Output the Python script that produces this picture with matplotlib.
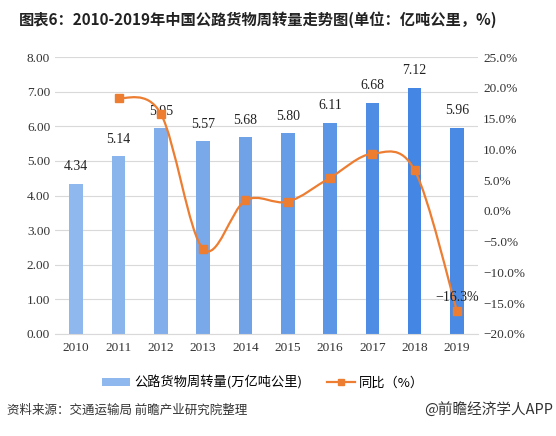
import matplotlib
matplotlib.use("Agg")
import matplotlib.pyplot as plt
from matplotlib.path import Path
from matplotlib.patches import PathPatch
from matplotlib.lines import Line2D
from matplotlib.patches import Patch
import numpy as np

plt.rcParams['font.family'] = ['Noto Sans CJK SC', 'DejaVu Sans']

years = ["2010", "2011", "2012", "2013", "2014", "2015", "2016", "2017", "2018", "2019"]
volume = [4.34, 5.14, 5.95, 5.57, 5.68, 5.80, 6.11, 6.68, 7.12, 5.96]
growth_years = ["2011", "2012", "2013", "2014", "2015", "2016", "2017", "2018", "2019"]
growth = [18.4, 15.8, -6.2, 1.7, 1.5, 5.4, 9.3, 6.6, -16.3]

bar_colors = ["#8fb8ee", "#8ab4ec", "#82aeeb", "#7aa9e9", "#70a2e8",
              "#679ce7", "#5b95e6", "#4f8de5", "#4386e3", "#4a8ae4"]
orange = "#ed7d31"
serif = ["Liberation Serif", "DejaVu Serif"]

fig = plt.figure(figsize=(5.56, 4.36), dpi=100)
ax = fig.add_axes([0.099, 0.234, 0.761, 0.635])
ax2 = ax.twinx()

x = np.arange(len(years))
ax.bar(x, volume, width=0.32, color=bar_colors, zorder=2)
for xi, v in zip(x, volume):
    ax.text(xi, v + 0.3, f"{v:.2f}", ha="center", va="bottom",
            fontsize=10, family=serif, color="#222222")

ax.set_ylim(0, 8)
ax.set_yticks(np.arange(0, 9, 1))
ax.set_yticklabels([f"{t:.2f}" for t in range(0, 9)], family=serif, fontsize=9.5)
ax.set_xlim(-0.5, len(years) - 0.5)
ax.set_xticks(x)
ax.set_xticklabels(years, family=serif, fontsize=9.5)
ax.grid(axis="y", color="#d9d9d9", linewidth=0.8, zorder=0)
ax.set_axisbelow(True)
for s in ["top", "left", "right"]:
    ax.spines[s].set_visible(False)
ax.spines["bottom"].set_color("#d9d9d9")
ax.tick_params(length=0, colors="#333333")
ax.tick_params(axis="x", pad=6)

# smooth (Catmull-Rom style) line for growth rate
gx = np.array([years.index(y) for y in growth_years], dtype=float)
gy = np.array(growth, dtype=float)
verts = [(gx[0], gy[0])]
codes = [Path.MOVETO]
n = len(gx)
for i in range(n - 1):
    p0 = (gx[i - 1], gy[i - 1]) if i > 0 else (gx[i], gy[i])
    p1 = (gx[i], gy[i])
    p2 = (gx[i + 1], gy[i + 1])
    p3 = (gx[i + 2], gy[i + 2]) if i + 2 < n else p2
    c1 = (p1[0] + (p2[0] - p0[0]) / 6, p1[1] + (p2[1] - p0[1]) / 6)
    c2 = (p2[0] - (p3[0] - p1[0]) / 6, p2[1] - (p3[1] - p1[1]) / 6)
    verts += [c1, c2, p2]
    codes += [Path.CURVE4] * 3
ax2.add_patch(PathPatch(Path(verts, codes), facecolor="none", edgecolor=orange,
                        linewidth=1.6, zorder=3))
ax2.plot(gx, gy, linestyle="none", marker="s", markersize=6, color=orange, zorder=4)
ax2.text(gx[-1], gy[-1] + 1.2, f"\u2212{abs(gy[-1]):.1f}%", ha="center", va="bottom",
         fontsize=10, family=serif, color="#222222")

ax2.set_ylim(-20, 25)
ax2.set_yticks(np.arange(-20, 26, 5))
ax2.set_yticklabels([f"{t:.1f}%".replace("-", "\u2212") for t in np.arange(-20, 26, 5)],
                    family=serif, fontsize=9.5)
for s in ["top", "left", "right", "bottom"]:
    ax2.spines[s].set_visible(False)
ax2.tick_params(length=0, colors="#333333")

fig.text(0.465, 0.955, "图表6：2010-2019年中国公路货物周转量走势图(单位：亿吨公里，%)",
         ha="center", va="center", fontsize=11, fontweight="bold", color="#222222")

handles = [Patch(facecolor="#8fb8ee"),
           Line2D([0], [0], color=orange, marker="s", markersize=5, linewidth=1.6)]
fig.legend(handles, ["公路货物周转量(万亿吨公里)", "同比（%）"], loc="center",
           bbox_to_anchor=(0.473, 0.122), ncol=2, frameon=False, fontsize=9.5,
           handlelength=2.1, handleheight=0.6, columnspacing=1.9, handletextpad=0.3)

fig.text(0.012, 0.06, "资料来源：交通运输局 前瞻产业研究院整理", ha="left", va="center",
         fontsize=9, color="#333333")
fig.text(0.995, 0.06, "@前瞻经济学人APP", ha="right", va="center",
         fontsize=10.5, color="#333333")

fig.savefig("out.png", dpi=100)
